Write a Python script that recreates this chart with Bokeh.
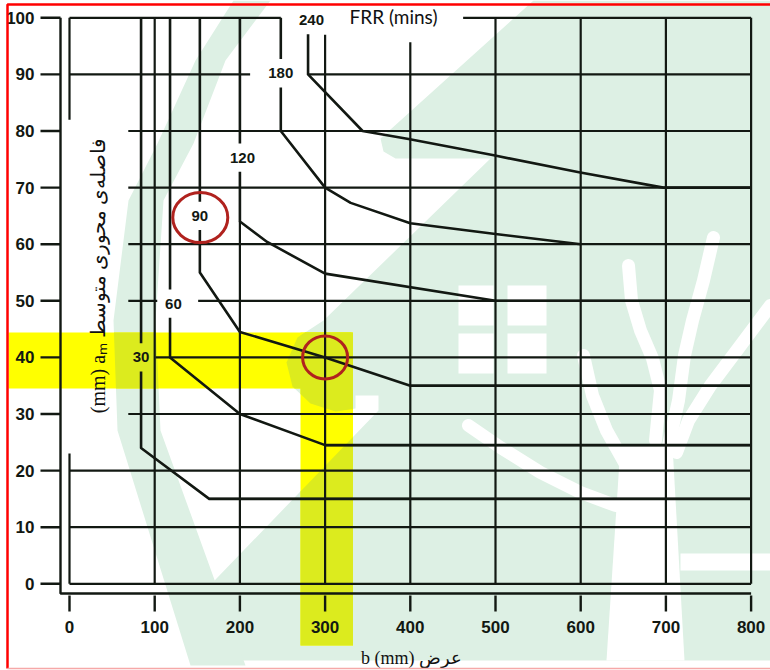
import numpy as np
from bokeh.plotting import figure
from bokeh.models import Range1d
from bokeh.core.properties import value
from bokeh.embed import file_html
from bokeh.resources import INLINE

# ---------------- data ----------------
frr_labels = ["30", "60", "90", "120", "180", "240"]
b_30 = [84, 84, 164, 800]
a_30 = [100, 24, 15, 15]
b_60 = [118, 118, 200, 300, 800]
a_60 = [100, 40, 30, 24.5, 24.5]
b_90 = [153, 153, 200, 300, 400, 800]
a_90 = [100, 55, 44.5, 40, 35, 35]
b_120 = [200, 200, 232, 300, 500, 800]
a_120 = [100, 64, 60.4, 54.8, 50, 50]
b_180 = [248, 248, 300, 330, 400, 500, 600]
a_180 = [100, 80, 70, 67.3, 63.7, 61.8, 60]
b_240 = [280, 280, 344, 398, 498, 598, 697, 800]
a_240 = [100, 90, 80, 78.6, 75.7, 72.7, 70, 70]
label_b = [84, 122, 153, 203, 248, 284]
label_a = [40, 49.5, 65, 75.3, 90.2, 99.6]

x_ticks = [0, 100, 200, 300, 400, 500, 600, 700, 800]
x_tick_labels = ["0", "100", "200", "300", "400", "500", "600", "700", "800"]
y_ticks = [0, 10, 20, 30, 40, 50, 60, 70, 80, 90, 100]
y_tick_labels = ["0", "10", "20", "30", "40", "50", "60", "70", "80", "90", "100"]

# horizontal rules of the nomogram: level, start, end
h_y = [100, 100, 90, 90, 80, 70, 60, 50, 50, 40, 35, 30, 24.5, 20, 15, 10, 0]
h_x0 = [0, 462, 0, 280, 69, 69, 69, 69, 151, 101, 400, 69, 300, 0, 164, 0, 0]
h_x1 = [248, 800, 212, 800, 800, 800, 800, 103, 800, 800, 800, 800, 800, 800, 800, 800, 800]
# vertical rules: position, start, end
v_x = [0, 0, 100, 200, 300, 400, 500, 600, 700, 800]
v_y0 = [0, 82, 0, 0, 0, 0, 0, 0, 0, 0]
v_y1 = [23, 100, 100, 64, 97, 95.7, 100, 100, 100, 100]

# highlighted reading (b = 300 mm, a = 40 mm) and circled curve label
read_b = [300]
read_a = [40]

# ---------------- geometry helpers (page pixels -> data) ----------------
PX0, SX, PY0, SY = 69.0, 0.852, 583.3, 5.66
W, H = 770, 670


def dx(X):
    return (X - PX0) / SX


def dy(Y):
    return (PY0 - Y) / SY


def conv(poly):
    return [dx(p[0]) for p in poly], [dy(p[1]) for p in poly]


def clip_rect(poly, xmin, ymin, xmax, ymax):
    def clip(pts, inside, inter):
        out = []
        n = len(pts)
        for i in range(n):
            cur, prev = pts[i], pts[i - 1]
            if inside(cur):
                if not inside(prev):
                    out.append(inter(prev, cur))
                out.append(cur)
            elif inside(prev):
                out.append(inter(prev, cur))
        return out

    def ix(xc):
        return lambda p, q: (xc, p[1] + (q[1] - p[1]) * (xc - p[0]) / (q[0] - p[0]))

    def iy(yc):
        return lambda p, q: (p[0] + (q[0] - p[0]) * (yc - p[1]) / (q[1] - p[1]), yc)

    pts = list(poly)
    for inside, inter in [
        (lambda p: p[0] >= xmin, ix(xmin)),
        (lambda p: p[0] <= xmax, ix(xmax)),
        (lambda p: p[1] >= ymin, iy(ymin)),
        (lambda p: p[1] <= ymax, iy(ymax)),
    ]:
        if not pts:
            break
        pts = clip(pts, inside, inter)
    return pts


INK = "#121812"
GREEN = "#DDF0E4"
YELLOW = "#FFFF00"
OVERLAP = "#DCEB1E"

p = figure(width=W, height=H,
           x_range=Range1d(dx(0), dx(W)), y_range=Range1d(dy(H), dy(0)),
           x_axis_type=None, y_axis_type=None, toolbar_location=None,
           output_backend="svg", min_border=0, outline_line_color=None,
           background_fill_color="white", border_fill_color="white")

# ---------------- watermark ----------------
wm_main = [(533, 0), (770, 0), (770, 660), (190, 660), (190, 605), (378, 410),
           (378, 395), (355, 395), (355, 408), (335, 411), (310, 403), (292, 386),
           (286, 362), (297, 337), (323, 320), (490, 158), (395, 158), (383, 151),
           (380, 138)]
wm_arc = [(233, 0), (195, 60), (157, 143), (128, 200), (113, 320), (117, 430),
          (190, 665), (245, 665), (160, 430), (155, 320), (163, 200), (193, 143),
          (225, 60), (270, 0)]
green_polys = [wm_main, wm_arc]
gx, gy = zip(*[conv(g) for g in green_polys])
p.patches(xs=list(gx), ys=list(gy), fill_color=GREEN, line_color=None)

white_rects = [(458, 285, 493, 325), (507, 285, 546, 325), (458, 333, 493, 373),
               (507, 333, 546, 373), (680, 553, 770, 570)]
p.quad(left=[dx(r[0]) for r in white_rects], right=[dx(r[2]) for r in white_rects],
       top=[dy(r[1]) for r in white_rects], bottom=[dy(r[3]) for r in white_rects],
       fill_color="white", line_color=None)
trunk = [(620, 445), (672, 445), (684, 660), (606, 660)]
tx, ty = conv(trunk)
p.patch(tx, ty, fill_color="white", line_color=None)
branches = [
    [(628, 265), (631, 300), (640, 330), (652, 358), (660, 390), (655, 440)],
    [(713, 237), (703, 280), (692, 320), (684, 355), (678, 400), (668, 445)],
    [(583, 355), (592, 395), (606, 430), (624, 462)],
    [(770, 305), (740, 345), (710, 385), (688, 420), (676, 452)],
    [(468, 425), (500, 447), (540, 472), (580, 492), (615, 505)],
]
bx, by = zip(*[conv(b) for b in branches])
p.multi_line(xs=list(bx), ys=list(by), line_color="white", line_width=13, line_cap="round")

# ---------------- yellow highlight ----------------
band_h = (8, 332, 351, 388)
band_v = (300, 332, 352.5, 645)
p.quad(left=[dx(band_h[0]), dx(band_v[0])], right=[dx(band_h[2]), dx(band_v[2])],
       top=[dy(band_h[1]), dy(band_v[1])], bottom=[dy(band_h[3]), dy(band_v[3])],
       fill_color=YELLOW, line_color=None)
ovx, ovy = [], []
for g in green_polys:
    for b in (band_h, band_v):
        c = clip_rect(g, b[0], b[1], b[2], b[3])
        if len(c) >= 3:
            cx, cy = conv(c)
            ovx.append(cx)
            ovy.append(cy)
p.patches(xs=ovx, ys=ovy, fill_color=OVERLAP, line_color=None)

# ---------------- grid of the nomogram ----------------
p.multi_line(xs=[[a, b] for a, b in zip(h_x0, h_x1)], ys=[[y, y] for y in h_y],
             line_color=INK, line_width=2.2)
p.multi_line(xs=[[x, x] for x in v_x], ys=[[a, b] for a, b in zip(v_y0, v_y1)],
             line_color=INK, line_width=2.2)

# ---------------- FRR curves (with gaps for labels) ----------------
curves = [(b_30, a_30), (b_60, a_60), (b_90, a_90), (b_120, a_120), (b_180, a_180), (b_240, a_240)]
GAP = 2.5
cxs, cys = [], []
for (bs, as_), la in zip(curves, label_a):
    top, low = la + GAP, la - GAP
    if top < as_[0]:
        cxs.append([bs[0], bs[0]])
        cys.append([as_[0], top])
    start = min(as_[0], low)
    cxs.append([bs[0]] + bs[1:])
    cys.append([start] + as_[1:])
p.multi_line(xs=cxs, ys=cys, line_color=INK, line_width=2.6, line_join="round")

p.text(x=label_b, y=label_a, text=frr_labels, text_font=value("Liberation Sans"),
       text_font_size="15px", text_font_style="bold", text_color=INK,
       text_align="center", text_baseline="middle")
p.text(x=[dx(393)], y=[dy(16)], text=["FRR (mins)"], text_font=value("Lato"),
       text_font_size="19px", text_color="#111111", text_align="center",
       text_baseline="middle")

# ---------------- outer axes, ticks, labels ----------------
fx, fb = dx(60), dy(593)
p.line(x=[fx, fx, 800], y=[100, fb, fb], line_color=INK, line_width=2.4)
p.multi_line(xs=[[dx(40), fx] for _ in y_ticks], ys=[[t, t] for t in y_ticks],
             line_color=INK, line_width=2.4)
p.multi_line(xs=[[t, t] for t in x_ticks], ys=[[dy(595), dy(611)] for _ in x_ticks],
             line_color=INK, line_width=2.4)
p.text(x=[dx(34)] * len(y_ticks), y=y_ticks, text=y_tick_labels,
       text_font=value("Liberation Sans"), text_font_size="17px", text_font_style="bold",
       text_color=INK, text_align="right", text_baseline="middle")
p.text(x=x_ticks, y=[dy(626)] * len(x_ticks), text=x_tick_labels,
       text_font=value("Liberation Sans"), text_font_size="17px", text_font_style="bold",
       text_color=INK, text_align="center", text_baseline="middle")

p.text(x=[dx(411)], y=[dy(657)], text=["b (mm) عرض"], text_font=value("Liberation Serif"),
       text_font_size="18px", text_color="#111111", text_align="center",
       text_baseline="middle")
p.text(x=[dx(97)], y=[dy(275)], text=["(mm) aₘ فاصله‌ی محوری متوسط"],
       text_font=value("Liberation Serif"), text_font_size="20px", text_color="#111111",
       text_align="center", text_baseline="middle", angle=np.pi / 2)

# ---------------- red annotations ----------------
p.ellipse(x=[label_b[2] + 0.5], y=[label_a[2] - 0.3], width=55, height=50,
          width_units="screen", height_units="screen", fill_color=None,
          line_color="#B0221E", line_width=3)
p.ellipse(x=read_b, y=read_a, width=45, height=43, width_units="screen",
          height_units="screen", fill_color=None, line_color="#B0221E", line_width=3)

p.line(x=[dx(7), dx(7), dx(770)], y=[dy(668), dy(4), dy(4)], line_color="#FF0000", line_width=2.5)
p.line(x=[dx(7), dx(770)], y=[dy(668), dy(668)], line_color="#F6A8A8", line_width=1.5)

open("out.html", "w").write(file_html(p, INLINE))
